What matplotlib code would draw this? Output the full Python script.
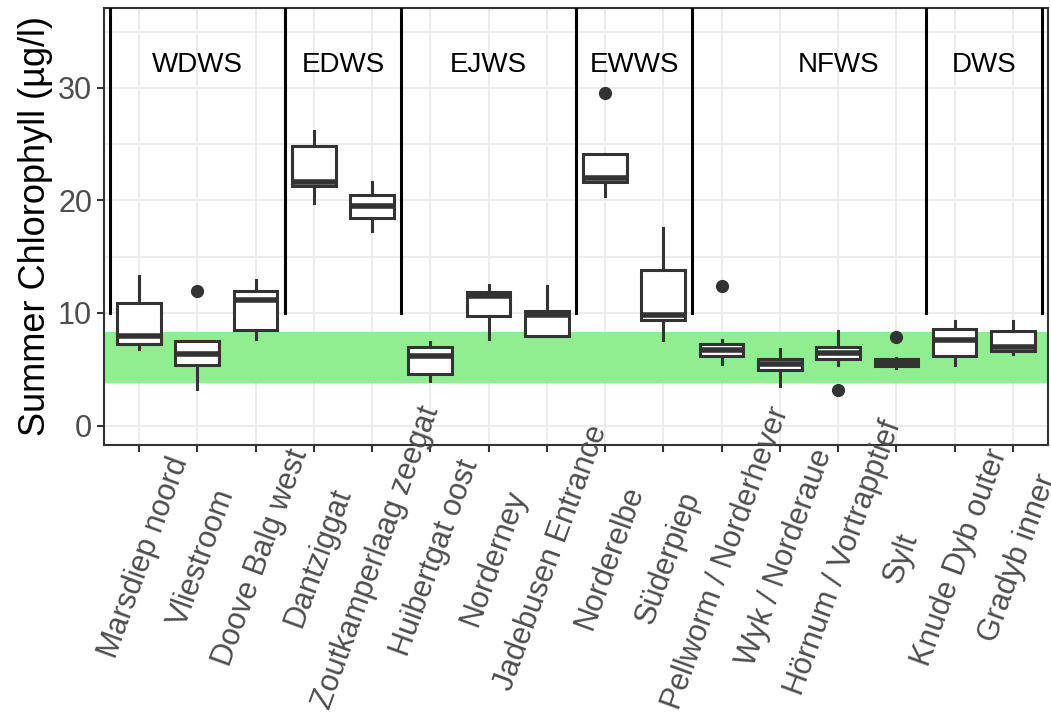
import numpy as np
import matplotlib.pyplot as plt
import matplotlib.transforms as mtransforms

plt.rcParams['font.family'] = ['Liberation Sans', 'DejaVu Sans']

sites = ["Marsdiep noord", "Vliestroom", "Doove Balg west", "Dantziggat",
         "Zoutkamperlaag zeegat", "Huibertgat oost", "Norderney", "Jadebusen Entrance",
         "Norderelbe", "Süderpiep", "Pellworm / Norderhever", "Wyk / Norderaue",
         "Hörnum / Vortrapptief", "Sylt", "Knude Dyb outer", "Gradyb inner"]

whislo = [6.80, 3.25, 7.69, 19.76, 17.27, 3.99, 7.69, 7.95, 20.35, 7.57, 5.47, 3.49, 5.41, 5.15, 5.41, 6.39]
q1 = [7.22, 5.41, 8.52, 21.24, 18.46, 4.61, 9.70, 7.98, 21.59, 9.35, 6.21, 4.95, 5.95, 5.30, 6.21, 6.65]
med = [7.93, 6.39, 11.18, 21.65, 19.46, 6.21, 11.48, 9.85, 22.03, 9.85, 6.74, 5.50, 6.45, 5.55, 7.63, 6.95]
q3 = [10.88, 7.54, 11.92, 24.81, 20.50, 6.95, 11.89, 10.20, 24.10, 13.80, 7.28, 5.94, 6.95, 5.89, 8.60, 8.43]
whishi = [13.25, 7.54, 12.90, 26.20, 21.65, 7.39, 12.51, 12.36, 24.10, 17.57, 7.57, 6.83, 8.43, 6.00, 9.32, 9.32]
outliers = [[], [11.92], [], [], [], [], [], [], [29.52], [], [12.36], [], [3.19], [7.87], [], []]

# water body groups
groups = ["WDWS", "EDWS", "EJWS", "EWWS", "NFWS", "DWS"]
group_label_x = [2, 4.5, 7, 9.5, 13, 15.5]
group_end = [3, 5, 8, 10, 14, 16]

band_low, band_high = 3.8, 8.35

fig, ax = plt.subplots(figsize=(10.51, 7.15), dpi=100)
fig.subplots_adjust(left=0.099, right=0.997, top=0.989, bottom=0.378)

pos = np.arange(1, len(sites) + 1)
ax.set_xlim(0.4, len(sites) + 0.6)
ax.set_ylim(-1.7, 37.1)

ax.axhspan(band_low, band_high, color="#90EE90", lw=0, zorder=1)

stats = []
for i in range(len(sites)):
    stats.append(dict(whislo=whislo[i], q1=q1[i], med=med[i], q3=q3[i],
                      whishi=whishi[i], fliers=outliers[i]))

edge = "#333333"
ax.bxp(stats, positions=pos, widths=0.75, patch_artist=True, showcaps=False,
       boxprops=dict(facecolor="white", edgecolor=edge, linewidth=2.2),
       medianprops=dict(color=edge, linewidth=4.0, solid_capstyle="butt"),
       whiskerprops=dict(color=edge, linewidth=2.2),
       flierprops=dict(marker="o", markerfacecolor=edge, markeredgecolor=edge, markersize=8.5),
       zorder=3)

# separators between water bodies
seps = [0.5] + [e + 0.5 for e in group_end]
for s in seps:
    ax.plot([s, s], [10, 40], color="black", lw=2.2, zorder=4)

for g, gx in zip(groups, group_label_x):
    ax.text(gx, 32, g, ha="center", va="center", fontsize=20, color="black", zorder=5)

ax.set_yticks([0, 10, 20, 30])
ax.set_yticks([5, 15, 25, 35], minor=True)
ax.set_xticks(pos)
ax.set_xticklabels([])

# rotated site labels, centred on a common line below the axis (long ones run into the panel)
lab_trans = ax.get_xaxis_transform() + mtransforms.ScaledTranslation(5 / 100, -113 / 100, fig.dpi_scale_trans)
for p, s in zip(pos, sites):
    ax.text(p, 0, s, transform=lab_trans, rotation=70, ha="center", va="center",
            rotation_mode="anchor", fontsize=22, color="#4D4D4D", clip_on=False, zorder=6)

ax.grid(True, which="major", color="#EBEBEB", lw=1.3, zorder=0)
ax.grid(True, which="minor", axis="y", color="#EBEBEB", lw=1.3, zorder=0)
ax.set_axisbelow(True)
ax.tick_params(axis="both", which="major", labelsize=22, labelcolor="#4D4D4D",
               color="#333333", length=5, width=1.5)
ax.tick_params(axis="both", which="minor", length=0)
for sp in ax.spines.values():
    sp.set_color("#333333")
    sp.set_linewidth(1.5)

ax.set_ylabel("Summer Chlorophyll (µg/l)", fontsize=26, color="black", labelpad=4)

plt.savefig("out.png", dpi=100)
plt.close()
